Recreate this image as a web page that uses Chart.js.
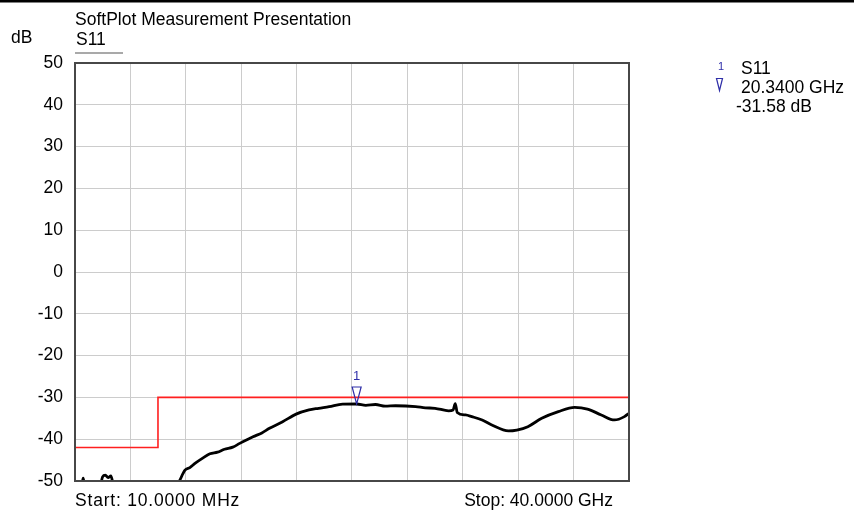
<!DOCTYPE html>
<html>
<head>
<meta charset="utf-8">
<script src="https://cdn.jsdelivr.net/npm/chart.js@4.4.1/dist/chart.umd.min.js"></script>
<style>
body { margin: 0; background: #fff; font-family: "Liberation Sans", Arial, sans-serif; }
#wrap { position: relative; width: 854px; height: 514px; }
.t { position: absolute; font-size: 17.5px; line-height: 1; color: #000; white-space: nowrap; }
.blue { color: #2e2ea8; }
</style>
</head>
<body>
<div id="wrap">
  <canvas id="plot" width="854" height="514"></canvas>
  <div class="t" style="left:75px; top:11.2px">SoftPlot Measurement Presentation</div>
  <div class="t" style="left:11px; top:29px">dB</div>
  <div class="t" style="left:76px; top:31.2px">S11</div>
  <div class="t blue" style="left:718px; top:61.4px; font-size:11px">1</div>
  <div class="t" style="left:741px; top:60.2px">S11</div>
  <div class="t" style="left:741px; top:78.8px">20.3400 GHz</div>
  <div class="t" style="left:736px; top:97.6px">-31.58 dB</div>
  <div class="t" style="left:75px; top:492.2px; letter-spacing:0.8px">Start: 10.0000 MHz</div>
  <div class="t" style="right:241px; top:492.2px">Stop: 40.0000 GHz</div>
</div>
<script>
// S11 trace, frequency in GHz, level in dB (values below -50 fall off the bottom)
var freqGHz = [0.01, 0.5, 0.6, 0.7, 1.8, 2.0, 2.2, 2.4, 2.6, 2.8, 5.0, 7.4, 7.55,
    7.95, 8.3, 8.67, 9.2, 9.75, 10.3, 10.8, 11.4, 11.9, 12.86, 13.5, 14.05, 15.0,
    15.97, 16.9, 17.6, 18.36, 19.33, 20.34, 21.0, 21.7, 22.4, 23.15, 24.6, 25.3,
    26.0, 26.98, 27.3, 27.46, 27.6, 28.2, 28.65, 29.4, 30.1, 31.3, 31.9, 32.7,
    33.7, 34.9, 36.08, 37.0, 38.0, 38.95, 39.67, 40.0];
var s11dB = [-51.5, -51, -49.3, -51, -51.5, -49.0, -48.6, -49.2, -48.8, -51, -52, -51, -50,
    -47.4, -46.8, -45.8, -44.6, -43.5, -43.1, -42.4, -41.9, -41.0, -39.4, -38.5, -37.4, -35.8,
    -34.0, -33.0, -32.6, -32.2, -31.6, -31.58, -31.9, -31.7, -32.1, -32.0, -32.2, -32.5,
    -32.6, -33.2, -33.0, -31.5, -33.6, -34.2, -34.6, -35.4, -36.6, -38.0, -37.8, -37.0,
    -35.0, -33.4, -32.4, -32.8, -34.2, -35.4, -34.6, -33.8];

// limit line
var limitFreq = [0.01, 6, 6, 40];
var limitDb = [-42, -42, -30, -30];

var yTicks = [50, 40, 30, 20, 10, 0, -10, -20, -30, -40, -50];
var xGrid = [0.01, 4, 8, 12, 16, 20, 24, 28, 32, 36, 40];

var markerFreq = 20.34;
var markerDb = -31.58;

function toPoints(xs, ys) {
    var pts = [];
    for (var i = 0; i < xs.length; i++) {
        pts.push({ x: xs[i], y: ys[i] });
    }
    return pts;
}

var decor = {
    id: 'decor',
    beforeDraw: function (chart) {
        var ctx = chart.ctx;
        ctx.save();
        ctx.fillStyle = '#000';
        ctx.fillRect(0, 0, 854, 2.5);
        // underline under S11
        ctx.fillStyle = '#555';
        ctx.fillRect(75, 52.5, 48, 1);
        ctx.restore();
    },
    afterDatasetsDraw: function (chart) {
        var ctx = chart.ctx;
        var a = chart.chartArea;
        ctx.save();
        ctx.strokeStyle = '#474747';
        ctx.lineWidth = 2;
        ctx.strokeRect(a.left, a.top, a.right - a.left, a.bottom - a.top);

        // marker 1
        var px = chart.scales.x.getPixelForValue(markerFreq);
        var py = chart.scales.y.getPixelForValue(markerDb);
        ctx.strokeStyle = '#2e2ea8';
        ctx.lineWidth = 1.2;
        ctx.beginPath();
        ctx.moveTo(px - 4.5, py - 17);
        ctx.lineTo(px + 4.5, py - 17);
        ctx.lineTo(px, py);
        ctx.closePath();
        ctx.stroke();
        ctx.fillStyle = '#2e2ea8';
        ctx.font = '13px "Liberation Sans", Arial, sans-serif';
        ctx.textAlign = 'center';
        ctx.fillText('1', px, py - 24);

        // legend triangle
        ctx.beginPath();
        ctx.moveTo(716.5, 78.5);
        ctx.lineTo(722.5, 78.5);
        ctx.lineTo(719.5, 90.5);
        ctx.closePath();
        ctx.stroke();
        ctx.restore();
    }
};

new Chart(document.getElementById('plot').getContext('2d'), {
    type: 'line',
    data: {
        datasets: [{
            label: 'S11',
            data: toPoints(freqGHz, s11dB),
            borderColor: '#000',
            borderWidth: 2.8,
            pointRadius: 0,
            cubicInterpolationMode: 'monotone'
        }, {
            label: 'Limit',
            data: toPoints(limitFreq, limitDb),
            borderColor: '#ff1f1f',
            borderWidth: 1.6,
            pointRadius: 0
        }]
    },
    options: {
        responsive: false,
        animation: false,
        layout: { padding: { left: 0, top: 63, right: 225, bottom: 33 } },
        plugins: { legend: { display: false }, tooltip: { enabled: false } },
        scales: {
            x: {
                type: 'linear',
                min: 0.01,
                max: 40,
                afterBuildTicks: function (s) { s.ticks = xGrid.map(function (v) { return { value: v }; }); },
                afterFit: function (s) { s.height = 0; },
                ticks: { display: false },
                grid: { color: '#cccccc', drawTicks: false },
                border: { display: false }
            },
            y: {
                min: -50,
                max: 50,
                afterBuildTicks: function (s) { s.ticks = yTicks.map(function (v) { return { value: v }; }); },
                afterFit: function (s) { s.width = 75; },
                ticks: {
                    color: '#000',
                    padding: 12,
                    font: { family: '"Liberation Sans", Arial, sans-serif', size: 17.5 }
                },
                grid: { color: '#cccccc', drawTicks: false },
                border: { display: false }
            }
        }
    },
    plugins: [decor]
});
</script>
</body>
</html>
